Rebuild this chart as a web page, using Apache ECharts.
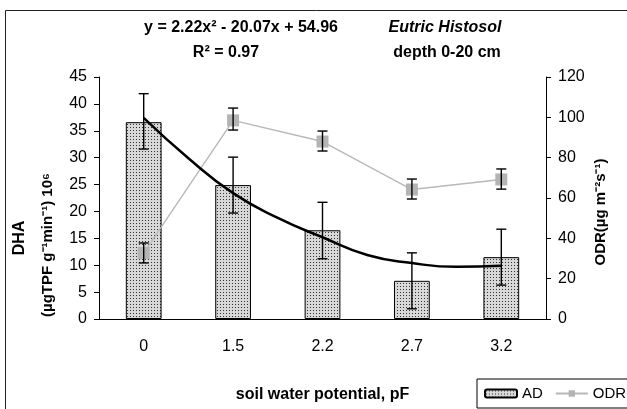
<!DOCTYPE html>
<html>
<head>
<meta charset="utf-8">
<script src="https://cdn.jsdelivr.net/npm/echarts@6/dist/echarts.min.js"></script>
<style>
  html, body { margin: 0; padding: 0; background: #fff; }
  #chart { width: 627px; height: 409px; }
</style>
</head>
<body>
<div id="chart"></div>
<script>
// values
var categories = ['0', '1.5', '2.2', '2.7', '3.2'];
var adValues = [36.6, 24.9, 16.5, 7.1, 11.5];
var adErrLow = [31.6, 19.7, 11.2, 1.9, 6.3];
var adErrHigh = [41.9, 30.1, 21.7, 12.3, 16.7];
var odrValues = [32.7, 98.5, 88.0, 64.2, 69.2];
var odrErrLow = [27.8, 93.7, 83.3, 59.5, 64.4];
var odrErrHigh = [37.7, 104.6, 93.2, 69.4, 74.4];
// trend line, read at category centres and half-way points
var trendX = [1, 1.5, 2, 2.5, 3, 3.5, 4, 4.5, 5];
var trendY = [37.4, 29.9, 23.4, 18.8, 15.2, 11.9, 10.4, 9.7, 9.9];

var fontName = '"Liberation Sans", Arial, sans-serif';

// dotted fill like the excel pattern
var pat = document.createElement('canvas');
pat.width = 3; pat.height = 3;
var pctx = pat.getContext('2d');
pctx.fillStyle = '#d8d8d8';
pctx.fillRect(0, 0, 3, 3);
pctx.fillStyle = '#333333';
pctx.fillRect(1, 1, 1, 1);
var patColor = { image: pat, repeat: 'repeat' };

var errData = function (low, high) {
    var out = [];
    for (var i = 0; i < low.length; i++) {
        out.push([i, low[i], high[i]]);
    }
    return out;
};

var renderErr = function (params, api) {
    var x = api.value(0);
    var lo = api.coord([x, api.value(1)]);
    var hi = api.coord([x, api.value(2)]);
    var w = 5;
    var st = { stroke: '#000', lineWidth: 1.4 };
    return {
        type: 'group',
        children: [
            { type: 'line', shape: { x1: lo[0], y1: lo[1], x2: hi[0], y2: hi[1] }, style: st },
            { type: 'line', shape: { x1: lo[0] - w, y1: lo[1], x2: lo[0] + w, y2: lo[1] }, style: st },
            { type: 'line', shape: { x1: hi[0] - w, y1: hi[1], x2: hi[0] + w, y2: hi[1] }, style: st }
        ]
    };
};

var trendData = [];
for (var i = 0; i < trendX.length; i++) {
    trendData.push([trendX[i], trendY[i]]);
}

var chart = echarts.init(document.getElementById('chart'));
var option = {
    animation: false,
    textStyle: { fontFamily: fontName },
    grid: { left: 99, right: 81, top: 77, bottom: 90 },
    graphic: [
        { type: 'rect', shape: { x: 5.5, y: 10.5, width: 700, height: 500 },
          style: { fill: 'none', stroke: '#222', lineWidth: 1 }, z: 0 },
        { type: 'text', x: 241, y: 28,
          style: { text: 'y = 2.22x\u00b2 - 20.07x + 54.96', font: 'bold 16px ' + fontName, fill: '#000', align: 'center', verticalAlign: 'middle' } },
        { type: 'text', x: 226, y: 53,
          style: { text: 'R\u00b2 = 0.97', font: 'bold 16px ' + fontName, fill: '#000', align: 'center', verticalAlign: 'middle' } },
        { type: 'text', x: 445, y: 28,
          style: { text: 'Eutric Histosol', font: 'italic bold 16px ' + fontName, fill: '#000', align: 'center', verticalAlign: 'middle' } },
        { type: 'text', x: 447, y: 53,
          style: { text: 'depth 0-20 cm', font: 'bold 16px ' + fontName, fill: '#000', align: 'center', verticalAlign: 'middle' } },
        { type: 'text', x: 20, y: 238, rotation: Math.PI / 2,
          style: { text: 'DHA', font: 'bold 16px ' + fontName, fill: '#000', align: 'center', verticalAlign: 'middle' } },
        { type: 'text', x: 48, y: 245, rotation: Math.PI / 2,
          style: { text: '(\u00b5gTPF g\u207b\u00b9min\u207b\u00b9) 10\u2076', font: 'bold 15px ' + fontName, fill: '#000', align: 'center', verticalAlign: 'middle' } },
        { type: 'text', x: 601, y: 212, rotation: Math.PI / 2,
          style: { text: 'ODR(\u00b5g m\u207b\u00b2s\u207b\u00b9)', font: 'bold 15px ' + fontName, fill: '#000', align: 'center', verticalAlign: 'middle' } }
    ],
    legend: {
        data: ['AD', 'ODR'],
        left: 477, top: 379,
        width: 300,
        padding: [7, 7],
        borderColor: '#000', borderWidth: 1,
        itemWidth: 32, itemHeight: 8, itemGap: 12,
        textStyle: { fontSize: 15, color: '#000', fontFamily: fontName }
    },
    xAxis: [
        {
            type: 'category',
            data: categories,
            name: 'soil water potential, pF',
            nameLocation: 'middle',
            nameGap: 68,
            nameTextStyle: { fontSize: 16, fontWeight: 'bold', color: '#000' },
            axisLine: { lineStyle: { color: '#000', width: 1 } },
            axisTick: { inside: true, length: 5, lineStyle: { color: '#000' } },
            axisLabel: { fontSize: 16, color: '#000', margin: 20 },
            splitLine: { show: false }
        },
        {
            type: 'value', min: 0.5, max: 5.5, show: false,
            splitLine: { show: false }
        }
    ],
    yAxis: [
        {
            type: 'value', min: 0, max: 45, interval: 5,
            axisLine: { show: true, lineStyle: { color: '#000' } },
            axisTick: { show: true, length: 5, lineStyle: { color: '#000' } },
            axisLabel: { fontSize: 16, color: '#000', margin: 12 },
            splitLine: { show: false }
        },
        {
            type: 'value', min: 0, max: 120, interval: 20,
            position: 'right',
            axisLine: { show: true, lineStyle: { color: '#000' } },
            axisTick: { show: true, length: 5, lineStyle: { color: '#000' } },
            axisLabel: { fontSize: 16, color: '#000', margin: 12 },
            splitLine: { show: false }
        }
    ],
    series: [
        {
            name: 'AD', type: 'bar', data: adValues, barWidth: '40%',
            itemStyle: { color: patColor, borderColor: '#000', borderWidth: 1 },
            z: 2
        },
        {
            name: 'ODR', type: 'line', data: odrValues, yAxisIndex: 1,
            symbol: 'rect', symbolSize: 12,
            itemStyle: { color: '#b4b4b4' },
            lineStyle: { color: '#b8b8b8', width: 1.4 },
            z: 3
        },
        {
            name: 'trend', type: 'line', data: trendData, xAxisIndex: 1,
            smooth: true, showSymbol: false, symbol: 'none',
            lineStyle: { color: '#000', width: 2.5 },
            z: 4
        },
        {
            name: 'adErr', type: 'custom', renderItem: renderErr,
            data: errData(adErrLow, adErrHigh), z: 5
        },
        {
            name: 'odrErr', type: 'custom', renderItem: renderErr, yAxisIndex: 1,
            data: errData(odrErrLow, odrErrHigh), z: 5
        }
    ]
};
chart.setOption(option);
</script>
</body>
</html>
